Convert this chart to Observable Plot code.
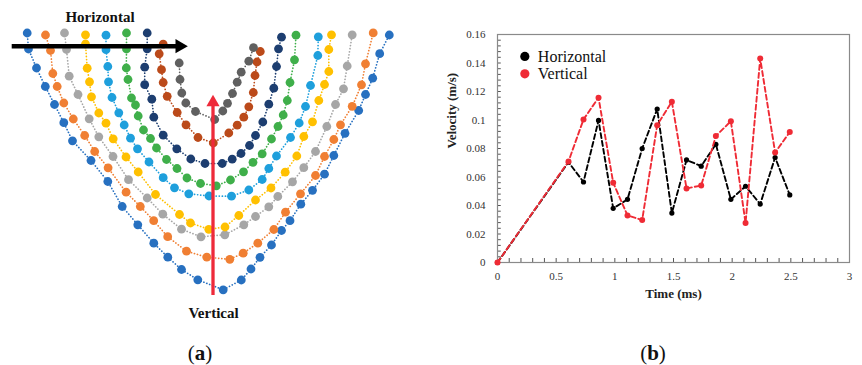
<!DOCTYPE html>
<html>
<head>
<meta charset="utf-8">
<script src="https://cdn.jsdelivr.net/npm/d3@7"></script>
<script src="https://cdn.jsdelivr.net/npm/@observablehq/plot@0.6"></script>
<style>
  html, body { margin: 0; padding: 0; background: #fff; }
  #wrap { position: relative; width: 862px; height: 365px; background: #fff; overflow: hidden; }
  #pa { position: absolute; left: 0; top: 0; }
  #pb { position: absolute; left: 430px; top: 0; }
  .plab { position: absolute; top: 341px; width: 50px; text-align: center; font-family: "Liberation Serif", serif; font-size: 21px; line-height: 24px; color: #111; }
</style>
</head>
<body>
<div id="wrap">
  <div id="pa"></div>
  <div id="pb"></div>
  <div class="plab" style="left:175px">(<b>a</b>)</div>
  <div class="plab" style="left:628px">(<b>b</b>)</div>
</div>
<script>
// ---------- Panel (b) data ----------
const time = [0, 0.605, 0.733, 0.861, 0.986, 1.108, 1.233, 1.361, 1.486, 1.611, 1.736, 1.861, 1.989, 2.114, 2.239, 2.366, 2.491];
const horizontal = [0, 0.0704, 0.0565, 0.0997, 0.038, 0.0443, 0.080, 0.1077, 0.0347, 0.072, 0.0676, 0.083, 0.0443, 0.0535, 0.041, 0.0737, 0.0474];
const vertical = [0, 0.0709, 0.1004, 0.1157, 0.056, 0.033, 0.0298, 0.0964, 0.1128, 0.052, 0.054, 0.0887, 0.0992, 0.0277, 0.1431, 0.0772, 0.0915];
const xTicks = [0, 0.5, 1, 1.5, 2, 2.5, 3];
const yTicks = [0, 0.02, 0.04, 0.06, 0.08, 0.1, 0.12, 0.14, 0.16];
const seriesNames = ["Horizontal", "Vertical"];
const seriesColors = ["#000000", "#ef2b35"];
const legendPos = [{x: 0.233, y: 0.1446}, {x: 0.233, y: 0.1324}];

// ---------- Panel (a) data (schematic positions) ----------
const curveColors = ["#2770c0", "#f07f33", "#a6a6a6", "#ffc000", "#1e9fdc", "#3faf4a", "#1d3e70", "#bb4a1a", "#606060"];
const curve1 = [[26.7,32.5],[28,48.5],[36,67.5],[44.8,86],[54,104],[63.3,122.2],[72,140.3],[90.5,160],[107.3,181],[121.7,206],[137.3,224.3],[153.3,242.7],[167.3,256.7],[181,269],[197.3,279.3],[222.7,289.3],[240.8,279.5],[250.5,268.5],[259.5,256.8],[271,244.5],[281,230],[289.5,220.2],[300.3,203.7],[312,189.8],[324,173.7],[333.3,155],[344.5,132.8],[358.2,110],[365,94],[372.2,77.7],[379.2,53.2],[388.8,34.5]];
const curve2 = [[45,34.5],[50,50],[52.3,73],[56.7,86],[63.3,102.5],[72.8,118.5],[84.2,135],[94.2,151],[107.6,167.3],[125.6,191.7],[139.8,206],[153.2,220.2],[167.2,236.2],[186,250.7],[206.3,256.7],[229.3,258.8],[242.7,252.7],[257.3,242.7],[273.3,229],[285,211.7],[300,193.3],[315,175],[324,156],[333.3,139],[340,124.3],[351.7,105.8],[361,84.3],[365,63.3],[372.7,32.4]];
const curve3 = [[64,32.5],[66,49],[68.7,75.7],[77.5,94],[88.7,118.3],[98.3,136.3],[112.5,156],[128,179.2],[146.7,197.5],[162.3,213.7],[181,228.7],[200.5,236.3],[224.3,234.3],[243.3,224.3],[255,216],[268.3,206.3],[277.3,196],[292,181.3],[303.3,167.2],[315,151],[326.3,126],[335,104],[343,88.3],[346.7,65.5],[351.7,34.3]];
const curve4 = [[85,34.3],[85,43.5],[86.7,67.7],[89,81.3],[91,96.3],[98.3,112.5],[105.5,122.7],[112.7,138.3],[125.5,156.5],[137.7,171.5],[155,194],[179,214],[190,222.5],[208.3,228.8],[224.5,226.5],[238.3,215],[255,199.5],[270.5,187.5],[284.7,171.7],[296.3,155.5],[303.3,136],[312,121.3],[318.3,100],[324,84],[328.3,71],[328.3,49],[331,34.3]];
const curve5 = [[105.5,34.7],[105.5,49.2],[107.3,66],[108,81.3],[111.5,97],[118.3,112.3],[123.7,124.5],[130,137.7],[137,148.3],[148.5,161.5],[162.7,177.2],[174,187.3],[188.3,193.3],[208.5,195.5],[231,195.7],[248.3,189.5],[261.7,179],[268.3,168],[276,155.5],[290,137],[298.7,122.5],[305,106],[310,85],[317.3,55],[317.8,36.3]];
const curve6 = [[126,32.5],[126,48.5],[125.8,67.5],[127.5,79],[131,97.5],[135,104.5],[137.7,115.5],[143,129.5],[150,138],[156,147.5],[166,159],[176.5,168],[186.5,177.5],[200,183],[215.8,185.3],[230,179.5],[243,171.3],[252.5,161.8],[261.7,153.3],[271,138.5],[277.5,126],[282.7,114.5],[286.8,100],[289.5,82],[294,59.3],[295.5,34.7]];
const curve7 = [[146.7,32.5],[146.7,48.3],[144.2,66.7],[144.2,84.2],[151.3,98.7],[153.3,116.7],[162.7,134.7],[176.3,148.3],[190.3,158.5],[204.5,163],[221.7,163],[231.7,158.7],[240.5,153],[249,145],[255,135],[262.3,121.5],[268.3,103.7],[273.3,87.7],[276,66],[278,48.3],[281,36.7]];
const curve8 = [[162.7,43.7],[158.7,53.3],[161,69.2],[162.7,82],[166.7,95.8],[176.7,112],[185.5,124.3],[197.5,137],[212.8,142.5],[228.3,132.5],[236.7,124.7],[243.3,116.7],[248.3,106.3],[252.8,92],[254.5,75],[256.5,61.5],[259.8,51]];
const curve9 = [[178.7,62.5],[179.5,79],[181.3,92.5],[185.3,102.5],[195,111],[214.2,119],[222.3,110.5],[227,102.8],[232,93],[236.7,81.7],[240.7,71.7],[248.3,60.7],[253,47.2]];
const curves = [curve1, curve2, curve3, curve4, curve5, curve6, curve7, curve8, curve9];

const horizontalArrow = [{x1: 11.7, x2: 180, y: 45.7}];
const horizontalHead = [{x: 179.1, y: 45.7}];
const verticalArrow = [{x: 212.5, y1: 295, y2: 104}];
const verticalHead = [{x: 212.5, y: 101.9}];
const panelALabels = [{text: "Horizontal", x: 99.5, y: 17}, {text: "Vertical", x: 213, y: 313}];

// ---------- Panel (a) ----------
const marksA = [];
curves.forEach((pts, i) => {
  marksA.push(Plot.line(pts, {stroke: curveColors[i], strokeWidth: 1.7, strokeDasharray: "0.1,3", strokeLinecap: "round"}));
  marksA.push(Plot.dot(pts, {r: 4.4, fill: curveColors[i], stroke: "none"}));
});
marksA.push(Plot.ruleX(verticalArrow, {x: "x", y1: "y1", y2: "y2", stroke: "#ee2a3a", strokeWidth: 3.3}));
marksA.push(Plot.dot(verticalHead, {x: "x", y: "y", symbol: "triangle", r: 4.9, fill: "#ee2a3a", stroke: "none"}));
marksA.push(Plot.ruleY(horizontalArrow, {y: "y", x1: "x1", x2: "x2", stroke: "#000", strokeWidth: 4.5}));
marksA.push(Plot.dot(horizontalHead, {x: "x", y: "y", symbol: "triangle", r: 5.3, rotate: 90, fill: "#000", stroke: "none"}));
marksA.push(Plot.text(panelALabels, {x: "x", y: "y", text: "text", fontWeight: "bold", fontSize: 15, fill: "#111", fontFamily: "Liberation Serif"}));

const chartA = Plot.plot({
  width: 430, height: 335,
  marginLeft: 0, marginRight: 0, marginTop: 0, marginBottom: 0,
  x: {type: "linear", domain: [0, 430], range: [0, 430], axis: null},
  y: {type: "linear", domain: [0, 335], range: [0, 335], axis: null},
  style: {background: "transparent", overflow: "visible"},
  marks: marksA
});
document.getElementById("pa").appendChild(chartA);

// ---------- Panel (b) ----------
const hData = time.map((t, i) => ({t, v: horizontal[i]}));
const vData = time.map((t, i) => ({t, v: vertical[i]}));
const xMinor = d3.range(0, 3.0001, 0.1);
const yMinor = d3.range(0, 0.16001, 0.004);
const legendData = seriesNames.map((name, i) => ({name, color: seriesColors[i], x: legendPos[i].x, y: legendPos[i].y}));

const chartB = Plot.plot({
  width: 432, height: 310,
  marginLeft: 67, marginRight: 13, marginTop: 34, marginBottom: 48,
  x: {domain: [0, 3]},
  y: {domain: [0, 0.16]},
  style: {background: "transparent", fontFamily: "Liberation Serif", fontSize: "11px", color: "#333", overflow: "visible"},
  marks: [
    Plot.ruleX(xMinor, {x: d => d, y1: 0, y2: 0.0028, stroke: "#555", strokeWidth: 1}),
    Plot.ruleY(yMinor, {y: d => d, x1: 0, x2: 0.032, stroke: "#555", strokeWidth: 1}),
    Plot.frame({stroke: "#8a8a8a", strokeWidth: 1.2}),
    Plot.axisX({ticks: xTicks, tickSize: 0, tickPadding: 10, tickFormat: d => String(d), label: null, fontSize: 11, fill: "#333"}),
    Plot.axisY({ticks: yTicks, tickSize: 0, tickPadding: 12, tickFormat: d => String(d), label: null, fontSize: 11, fill: "#333"}),
    Plot.line(hData, {x: "t", y: "v", stroke: seriesColors[0], strokeWidth: 1.9, strokeDasharray: "5,3"}),
    Plot.dot(hData, {x: "t", y: "v", r: 2.6, fill: seriesColors[0], stroke: "none"}),
    Plot.line(vData, {x: "t", y: "v", stroke: seriesColors[1], strokeWidth: 1.9, strokeDasharray: "5,3"}),
    Plot.dot(vData, {x: "t", y: "v", r: 3, fill: seriesColors[1], stroke: "none"}),
    Plot.dot(legendData, {x: "x", y: "y", r: 4.6, fill: "color", stroke: "none"}),
    Plot.text(legendData, {x: "x", y: "y", text: "name", dx: 13, textAnchor: "start", fontSize: 16, fill: "#111"}),
    Plot.text(["Time (ms)"], {text: d => d, frameAnchor: "bottom", dy: 35, fontWeight: "bold", fontSize: 13, fill: "#222"}),
    Plot.text(["Velocity (m/s)"], {text: d => d, frameAnchor: "left", dx: -46, rotate: -90, fontWeight: "bold", fontSize: 13, fill: "#222"})
  ]
});
document.getElementById("pb").appendChild(chartB);
</script>
</body>
</html>
